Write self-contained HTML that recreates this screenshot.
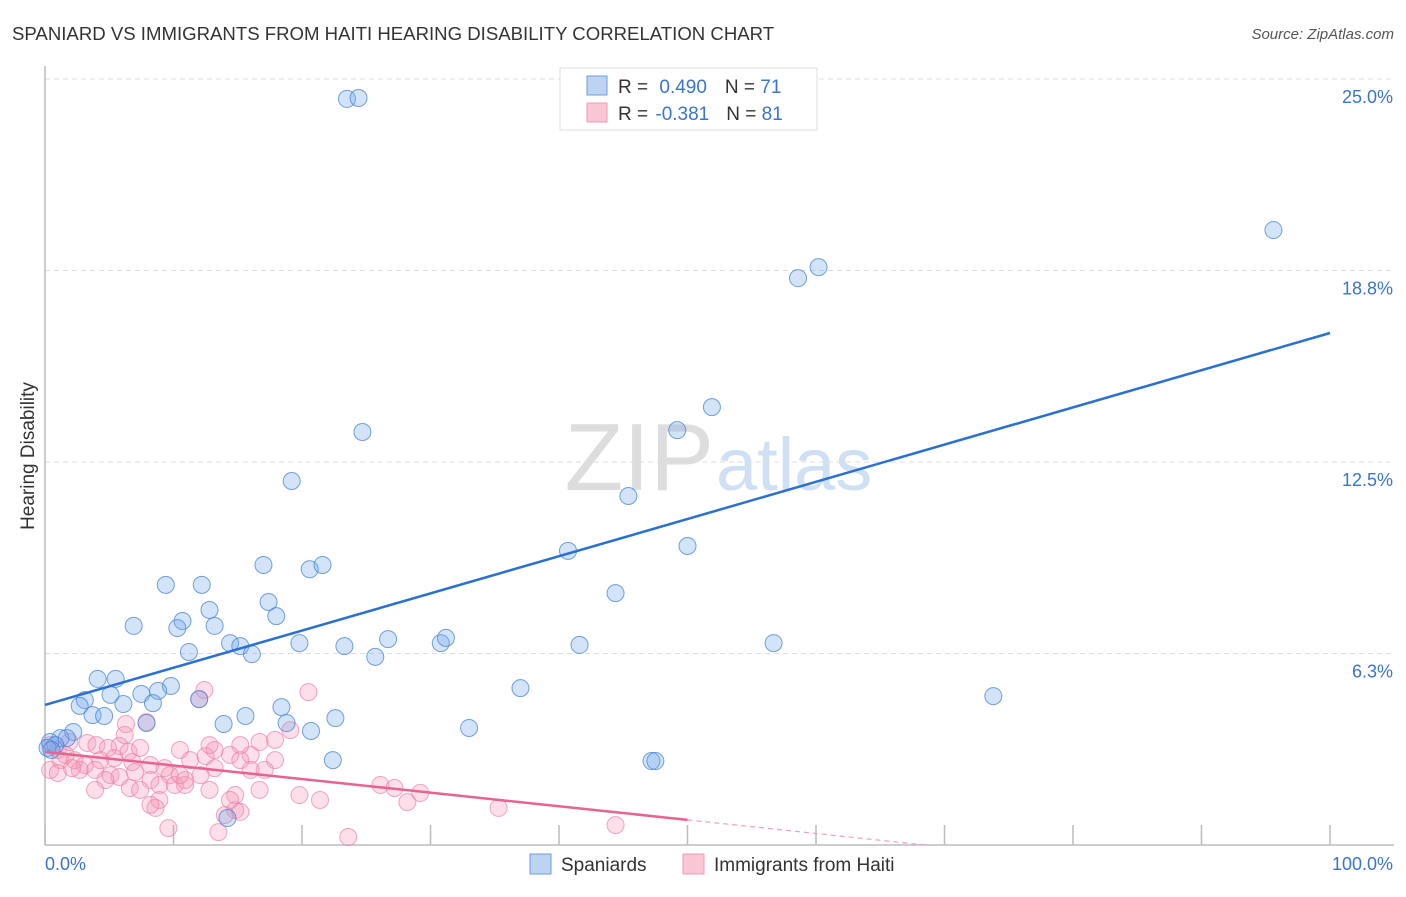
<!DOCTYPE html>
<html><head><meta charset="utf-8"><style>
body{margin:0;background:#fff;font-family:"Liberation Sans",sans-serif;}
svg text{font-family:"Liberation Sans",sans-serif;}
</style></head><body>
<svg id="c" width="1406" height="892">
<text x="12" y="40" font-size="18.6" fill="#333">SPANIARD VS IMMIGRANTS FROM HAITI HEARING DISABILITY CORRELATION CHART</text>
<text x="1394" y="39" font-size="15" fill="#555" font-style="italic" text-anchor="end">Source: ZipAtlas.com</text>
<text x="714" y="490" font-size="96" fill="#ddd" text-anchor="end" font-family="Liberation Serif">ZIP</text>
<text x="716" y="490" font-size="74" fill="#cfe0f4">atlas</text>
<text transform="translate(34,456) rotate(-90)" font-size="19" fill="#333" text-anchor="middle">Hearing Disability</text>
<g id="grid"></g><g id="pts"></g><g id="lines"></g>
<g>
<rect x="560" y="68" width="257" height="62" fill="#fff" stroke="#ddd"/>
<rect x="587" y="76" width="20" height="19" fill="#bcd4f2" stroke="#6a9ee0"/>
<rect x="587" y="103" width="20" height="19" fill="#f9c6d6" stroke="#f09ab5"/>
<text x="618" y="93" font-size="19" fill="#333">R = <tspan fill="#3a74d0" dx="6">0.490</tspan><tspan dx="18" fill="#333">N = </tspan><tspan fill="#3a74d0">71</tspan></text>
<text x="618" y="120" font-size="19" fill="#333">R = <tspan fill="#3a74d0" dx="2">-0.381</tspan><tspan dx="17" fill="#333">N = </tspan><tspan fill="#3a74d0">81</tspan></text>
</g>
<g>
<rect x="530" y="854" width="21" height="20" fill="#bcd4f2" stroke="#6a9ee0"/>
<text x="561" y="871" font-size="19" fill="#333">Spaniards</text>
<rect x="683" y="854" width="21" height="20" fill="#f9c6d6" stroke="#f09ab5"/>
<text x="714" y="871" font-size="19" fill="#333">Immigrants from Haiti</text>
</g>
</svg>
<script>
const yTicks=[6.25,12.5,18.75,25];
const yTickLabels=["6.3%","12.5%","18.8%","25.0%"];
const xTicks=[0,10,20,30,40,50,60,70,80,90,100];
const blueX=[23.5,24.4,95.6,58.6,60.2,51.9,49.2,24.7,19.2,45.4,40.7,50.0,17.0,20.6,21.6,9.4,12.2,44.4,17.4,12.8,18.0,10.7,6.9,10.3,13.2,14.4,15.2,19.8,23.3,26.7,30.8,31.2,41.6,56.7,11.2,16.1,25.7,4.1,5.5,9.8,37.0,73.8,7.5,5.1,8.8,3.1,2.7,6.1,8.4,12.0,18.4,3.7,4.6,15.6,7.9,13.9,22.6,18.8,33.0,20.7,2.2,1.2,1.7,0.4,0.8,22.4,47.2,47.5,14.2,0.2,0.5];
const blueY=[24.35,24.38,20.07,18.5,18.86,14.29,13.54,13.48,11.88,11.39,9.6,9.76,9.14,9.0,9.14,8.49,8.49,8.22,7.93,7.67,7.47,7.31,7.15,7.08,7.15,6.59,6.49,6.59,6.49,6.72,6.59,6.76,6.53,6.59,6.3,6.23,6.14,5.42,5.42,5.19,5.12,4.86,4.93,4.9,5.03,4.73,4.54,4.6,4.63,4.76,4.5,4.24,4.21,4.21,3.98,3.95,4.14,3.98,3.82,3.72,3.69,3.49,3.49,3.36,3.26,2.77,2.74,2.74,0.88,3.17,3.1];
const pinkX=[20.5,12.4,12.0,7.9,6.3,19.1,16.7,0.4,1.0,1.9,3.3,4.0,4.9,5.8,6.5,7.4,1.2,2.3,3.1,4.3,5.4,6.8,8.2,9.3,10.5,11.3,12.5,13.2,14.4,16.0,17.9,2.7,3.9,5.1,7.0,8.2,9.7,10.9,12.1,13.2,16.0,8.9,10.1,6.6,8.9,10.9,12.8,14.8,19.8,21.4,26.1,27.2,28.2,29.2,14.8,14.0,8.6,15.2,35.3,44.4,9.6,13.5,23.6,1.6,2.1,14.4,16.7,5.8,7.4,4.7,3.9,8.2,10.5,0.4,1.0,17.1,17.9,15.2,12.8,15.2,6.2];
const pinkY=[4.99,5.06,4.76,4.01,3.95,3.75,3.36,3.26,3.1,3.36,3.33,3.26,3.17,3.23,3.04,3.17,2.77,2.77,2.61,2.77,2.84,2.71,2.61,2.51,3.1,2.77,2.9,3.1,2.94,2.94,2.77,2.45,2.45,2.28,2.38,2.12,2.28,2.12,2.28,2.51,2.45,1.96,1.96,1.86,1.47,1.96,1.8,1.63,1.63,1.47,1.96,1.86,1.4,1.7,1.14,0.98,1.21,1.08,1.21,0.65,0.55,0.42,0.26,2.94,2.51,1.47,1.8,2.22,1.8,2.12,1.8,1.31,2.28,2.45,2.35,2.45,3.43,3.26,3.26,2.77,3.59];
const blueTrend=[4.57,16.71];
const pinkTrend=[3.04,-0.0444];
const NS="http://www.w3.org/2000/svg";
const X0=45,X1=1330,Y0=845,Y25=79;
const sx=v=>X0+(X1-X0)*v/100;
const sy=v=>Y0-(Y0-Y25)*v/25;
function mk(t,a,p){const e=document.createElementNS(NS,t);for(const k in a)e.setAttribute(k,a[k]);p.appendChild(e);return e;}
const grid=document.getElementById('grid');
yTicks.forEach((t,i)=>{
 const l=mk('line',{x1:X0,x2:1394,y1:sy(t),y2:sy(t),stroke:'#ddd','stroke-dasharray':'5,4'},grid);
 
 
 const tx=mk('text',{x:1393,y:sy(t)+24,'font-size':18,fill:'#3a74d0','text-anchor':'end'},grid);
 tx.textContent=yTickLabels[i];
 
 
});
const ax=mk('line',{x1:X0,x2:X0,y1:66,y2:Y0,stroke:'#bbb','stroke-width':1.5},grid);


const bx=mk('line',{x1:X0,x2:1394,y1:Y0,y2:Y0,stroke:'#bbb','stroke-width':1.5},grid);


xTicks.forEach(t=>{
 const l=mk('line',{x1:sx(t),x2:sx(t),y1:Y0-20,y2:Y0,stroke:'#bbb','stroke-width':1.5},grid);
 
 
});
const xl=mk('text',{x:45,y:870,'font-size':18,fill:'#3a74d0'},grid);xl.textContent='0.0%';


const xr=mk('text',{x:1393,y:870,'font-size':18,fill:'#3a74d0','text-anchor':'end'},grid);xr.textContent='100.0%';


const pts=document.getElementById('pts');
pinkX.forEach((v,i)=>{
 const c=mk('circle',{cx:sx(v),cy:sy(pinkY[i]),r:8.5,fill:'rgba(244,150,180,0.3)',stroke:'rgba(236,130,165,0.7)'},pts);
 
 
});
blueX.forEach((v,i)=>{
 const c=mk('circle',{cx:sx(v),cy:sy(blueY[i]),r:8.5,fill:'rgba(110,165,235,0.3)',stroke:'rgba(70,130,215,0.75)'},pts);
 
 
});
const lines=document.getElementById('lines');
const bl=mk('line',{x1:sx(0),y1:sy(blueTrend[0]),x2:sx(100),y2:sy(blueTrend[1]),stroke:'#2a70d4','stroke-width':2.5},lines);


const pf=x=>pinkTrend[0]+pinkTrend[1]*x;
const pl=mk('line',{x1:sx(0),y1:sy(pf(0)),x2:sx(50),y2:sy(pf(50)),stroke:'#e8638e','stroke-width':2.5},lines);


const xe=-pinkTrend[0]/pinkTrend[1];
const pd=mk('line',{x1:sx(50),y1:sy(pf(50)),x2:sx(xe),y2:sy(0),stroke:'#f0a0b8','stroke-width':1.2,'stroke-dasharray':'5,4'},lines);


</script>
</body></html>
